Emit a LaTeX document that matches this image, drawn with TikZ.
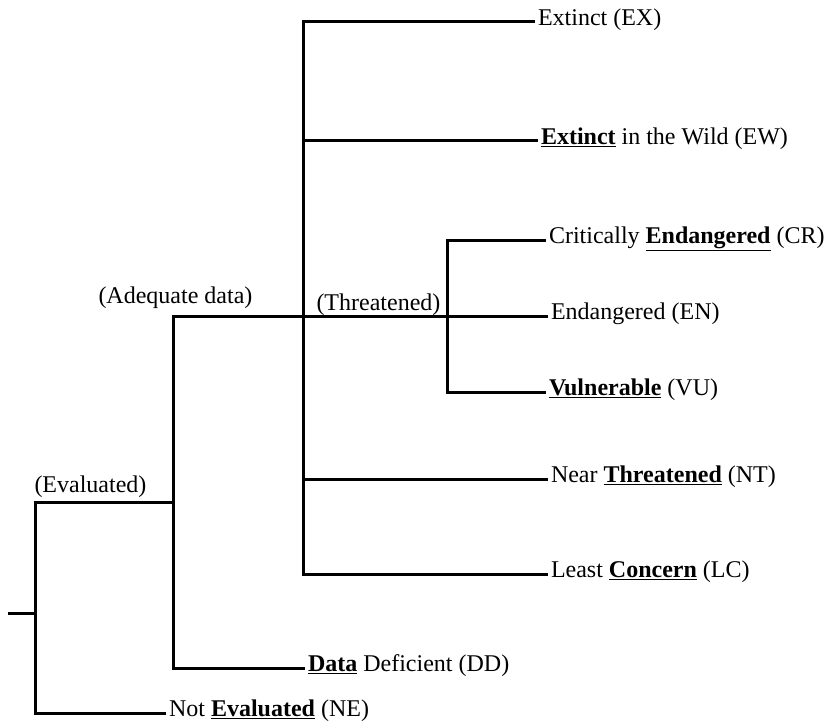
\documentclass[tikz,border=0pt]{standalone}
\usepackage{fontspec}
\setmainfont{Liberation Serif}
\begin{document}
\begin{tikzpicture}[x=1pt,y=-1pt,
  line width=3pt,
  leaf/.style={anchor=west,inner sep=3pt,outer sep=0pt,text height=0.7em,text depth=0pt,
    font=\fontsize{24}{28}\selectfont},
  grp/.style={anchor=base west,inner sep=0pt,font=\fontsize{24}{28}\selectfont}]
\useasboundingbox (0,0) rectangle (827,722);
% junction coordinates
\coordinate (r0) at (8,613);
\coordinate (r) at (35,613);
\coordinate (ev) at (173,502);
\coordinate (t) at (303,316);
\coordinate (th) at (447,316);
% leaves
\node[leaf] (ex) at (535,22) {Extinct (EX)};
\node[leaf] (ew) at (538,141) {\underline{\textbf{Extinct}} in the Wild (EW)};
\node[leaf] (cr) at (546,240) {Critically \underline{\textbf{Endangered}} (CR)};
\node[leaf] (en) at (548,316) {Endangered (EN)};
\node[leaf] (vu) at (546,392) {\underline{\textbf{Vulnerable}} (VU)};
\node[leaf] (nt) at (548,479) {Near \underline{\textbf{Threatened}} (NT)};
\node[leaf] (lc) at (548,574) {Least \underline{\textbf{Concern}} (LC)};
\node[leaf] (dd) at (305,668) {\underline{\textbf{Data}} Deficient (DD)};
\node[leaf] (ne) at (166,713) {Not \underline{\textbf{Evaluated}} (NE)};
% group labels
\node[grp] (lev) at (33,492) {(Evaluated)};
\node[grp] (lad) at (97,303) {(Adequate data)};
\node[grp] (lth) at (315,310) {(Threatened)};
% connectors
\draw (r0) -- (r);
\draw (ne.west) -| (r) |- (ev);
\draw (dd.west) -| (ev) |- (t) -- (th) -- (en.west);
\draw (ex.west) -| (t) |- (lc.west);
\draw (t |- ew.west) -- (ew.west);
\draw (t |- nt.west) -- (nt.west);
\draw (cr.west) -| (th) |- (vu.west);
\end{tikzpicture}
\end{document}
